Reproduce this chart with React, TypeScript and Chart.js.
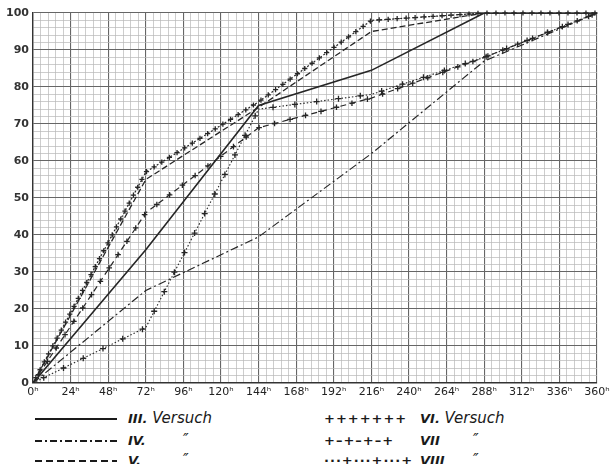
import React, { useEffect, useRef } from "react";
import { Chart, registerables } from "chart.js";

Chart.register(...registerables);

// Hours after start
const HOURS = [0, 72, 144, 216, 288, 360];
// Percentage values per experiment (Versuch)
const V3 = [0, 36, 75, 84.5, 100, 100];
const V4 = [0, 25, 39.5, 62, 87, 100];
const V5 = [0, 55, 74.5, 95, 100, 100];
const V6 = [0, 57, 76, 98, 100, 100];
const V7 = [0, 46, 69, 77, 88, 100];
const V8 = [0, 15, 74, 78, 88, 100];

const X_MAX = 360;
const X_MAJOR = 24;
const X_MINOR = 4.8;
const Y_MAX = 100;
const Y_MAJOR = 10;
const Y_MINOR = 2;

const INK = "#262626";

const isMultiple = (v: number, step: number) =>
  Math.abs(v / step - Math.round(v / step)) < 1e-6;

const plusPlugin = {
  id: "plusMarks",
  afterDatasetsDraw(chart: any) {
    const ctx = chart.ctx;
    chart.data.datasets.forEach((ds: any, i: number) => {
      const spec = ds.plusMarks;
      if (!spec) return;
      const meta = chart.getDatasetMeta(i);
      const pts = meta.data.map((p: any) => ({ x: p.x, y: p.y }));
      ctx.save();
      ctx.strokeStyle = ds.borderColor;
      ctx.lineWidth = 1.3;
      let carry = spec.offset;
      for (let k = 0; k < pts.length - 1; k++) {
        const a = pts[k];
        const b = pts[k + 1];
        const dx = b.x - a.x;
        const dy = b.y - a.y;
        const len = Math.hypot(dx, dy);
        let d = carry;
        while (d <= len) {
          const t = len === 0 ? 0 : d / len;
          const x = a.x + dx * t;
          const y = a.y + dy * t;
          const s = spec.size;
          ctx.beginPath();
          ctx.moveTo(x - s, y);
          ctx.lineTo(x + s, y);
          ctx.moveTo(x, y - s);
          ctx.lineTo(x, y + s);
          ctx.stroke();
          d += spec.spacing;
        }
        carry = d - len;
      }
      ctx.restore();
    });
  },
};

const toPoints = (vals: number[]) => HOURS.map((h, i) => ({ x: h, y: vals[i] }));

export default function App() {
  const ref = useRef<HTMLCanvasElement | null>(null);

  useEffect(() => {
    if (!ref.current) return;
    const base = {
      borderColor: INK,
      backgroundColor: INK,
      pointRadius: 0,
      fill: false,
      tension: 0,
    };
    const chart = new Chart(ref.current, {
      type: "line",
      data: {
        datasets: [
          { ...base, label: "III. Versuch", data: toPoints(V3), borderWidth: 1.6 },
          { ...base, label: "IV.", data: toPoints(V4), borderWidth: 1.2, borderDash: [8, 3, 2, 3] },
          { ...base, label: "V.", data: toPoints(V5), borderWidth: 1.3, borderDash: [6, 3] },
          { ...base, label: "VI. Versuch", data: toPoints(V6), borderWidth: 1.2, borderDash: [2, 2], plusMarks: { spacing: 9, size: 2.6, offset: 6 } } as any,
          { ...base, label: "VII", data: toPoints(V7), borderWidth: 1.2, borderDash: [6, 4], plusMarks: { spacing: 16, size: 2.8, offset: 10 } } as any,
          { ...base, label: "VIII", data: toPoints(V8), borderWidth: 1.1, borderDash: [1.5, 2], plusMarks: { spacing: 22, size: 3, offset: 12 } } as any,
        ],
      },
      options: {
        responsive: false,
        animation: false,
        devicePixelRatio: 1,
        layout: { padding: { left: 0, right: 13, top: 13, bottom: 0 } },
        plugins: { legend: { display: false }, tooltip: { enabled: false } },
        scales: {
          x: {
            type: "linear",
            min: 0,
            max: X_MAX,
            afterFit: (s: any) => {
              s.height = 17;
              s.paddingLeft = 0;
              s.paddingRight = 0;
            },
            border: { display: true, color: "#333", width: 1.4 },
            grid: {
              drawTicks: false,
              color: (c: any) => (isMultiple(c.tick.value, X_MAJOR) ? "#666" : "#b8b8b8"),
              lineWidth: (c: any) => (isMultiple(c.tick.value, X_MAJOR) ? 1.1 : 0.7),
            },
            ticks: {
              stepSize: X_MINOR,
              autoSkip: false,
              maxRotation: 0,
              minRotation: 0,
              padding: 3,
              color: "#222",
              font: { family: "DejaVu Sans", size: 11 },
              callback: (v: any) => (isMultiple(Number(v), X_MAJOR) ? `${Math.round(Number(v))}ʰ` : ""),
            },
          },
          y: {
            type: "linear",
            min: 0,
            max: Y_MAX,
            afterFit: (s: any) => {
              s.width = 33;
              s.paddingTop = 0;
              s.paddingBottom = 0;
            },
            border: { display: true, color: "#333", width: 1.4 },
            grid: {
              drawTicks: false,
              color: (c: any) => (isMultiple(c.tick.value, Y_MAJOR) ? "#666" : "#b8b8b8"),
              lineWidth: (c: any) => (isMultiple(c.tick.value, Y_MAJOR) ? 1.1 : 0.7),
            },
            ticks: {
              stepSize: Y_MINOR,
              autoSkip: false,
              padding: 4,
              color: "#333",
              font: { family: "DejaVu Sans", size: 11, weight: "bold" },
              callback: (v: any) => (isMultiple(Number(v), Y_MAJOR) ? String(Math.round(Number(v))) : ""),
            },
          },
        },
      },
      plugins: [plusPlugin],
    } as any);
    return () => chart.destroy();
  }, []);

  const textStyle: React.CSSProperties = {
    position: "absolute",
    fontFamily: "DejaVu Sans",
    fontStyle: "italic",
    fontSize: 15,
    color: "#1a1a1a",
    whiteSpace: "pre",
    lineHeight: "18px",
  };
  const numStyle: React.CSSProperties = { fontWeight: "bold", fontSize: 13 };
  const rows = [419, 441, 461];

  const lineSample = (y: number, dash?: string) => (
    <svg
      style={{ position: "absolute", left: 35, top: y - 4, width: 84, height: 8 }}
      width={84}
      height={8}
    >
      <line x1={0} y1={4} x2={82} y2={4} stroke="#1a1a1a" strokeWidth={1.8} strokeDasharray={dash} />
    </svg>
  );

  const textSample = (y: number, s: string) => (
    <div
      style={{
        position: "absolute",
        left: 324,
        top: y - 9,
        fontFamily: "DejaVu Sans",
        fontWeight: "bold",
        fontSize: 13,
        lineHeight: "18px",
        letterSpacing: 1,
        color: "#1a1a1a",
        whiteSpace: "pre",
      }}
    >
      {s}
    </div>
  );

  return (
    <div
      style={{
        position: "absolute",
        left: 0,
        top: 0,
        width: 610,
        height: 464,
        background: "#fff",
        overflow: "hidden",
      }}
    >
      <canvas ref={ref} width={610} height={400} style={{ position: "absolute", left: 0, top: 0 }} />
      {lineSample(rows[0])}
      {lineSample(rows[1], "7 3 2 3")}
      {lineSample(rows[2], "7 4")}
      <div style={{ ...textStyle, left: 128, top: rows[0] - 10 }}>
        <span style={numStyle}>III.</span> Versuch
      </div>
      <div style={{ ...textStyle, left: 128, top: rows[1] - 10 }}>
        <span style={numStyle}>IV.</span>
      </div>
      <div style={{ ...textStyle, left: 183, top: rows[1] - 10 }}>″</div>
      <div style={{ ...textStyle, left: 128, top: rows[2] - 10 }}>
        <span style={numStyle}>V.</span>
      </div>
      <div style={{ ...textStyle, left: 183, top: rows[2] - 10 }}>″</div>

      {textSample(rows[0], "+++++++")}
      {textSample(rows[1], "+–+–+–+")}
      {textSample(rows[2], "···+···+···+")}
      <div style={{ ...textStyle, left: 420, top: rows[0] - 10 }}>
        <span style={numStyle}>VI.</span> Versuch
      </div>
      <div style={{ ...textStyle, left: 420, top: rows[1] - 10 }}>
        <span style={numStyle}>VII</span>
      </div>
      <div style={{ ...textStyle, left: 473, top: rows[1] - 10 }}>″</div>
      <div style={{ ...textStyle, left: 420, top: rows[2] - 10 }}>
        <span style={numStyle}>VIII</span>
      </div>
      <div style={{ ...textStyle, left: 473, top: rows[2] - 10 }}>″</div>
    </div>
  );
}
